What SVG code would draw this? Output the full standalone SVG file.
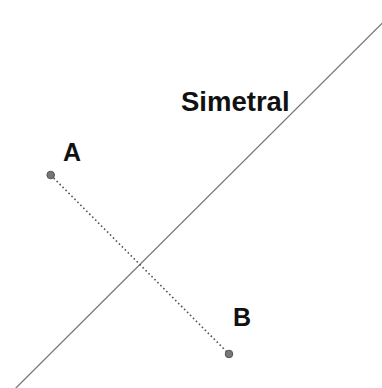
<svg xmlns="http://www.w3.org/2000/svg" width="382" height="388" viewBox="0 0 382 388">
<style>
.lbl{font-family:"Liberation Sans",Arial,sans-serif;font-weight:bold;fill:#111}
.pt{fill:#777;stroke:#555;stroke-width:1}
</style>
<rect width="382" height="388" fill="#fff"/>
<g id="connectors">
<line id="simetral-line" x1="14.9" y1="389" x2="383" y2="22.3" stroke="#777" stroke-width="1.3"/>
<line id="segment-AB" x1="50.7" y1="175" x2="229" y2="354" stroke="#555" stroke-width="1.6" stroke-dasharray="1.6 2.6"/>
</g>
<g id="node-A">
<circle class="pt" cx="50.7" cy="175" r="3.8"/>
<text class="lbl" x="63" y="161" font-size="25">A</text>
</g>
<g id="node-B">
<circle class="pt" cx="229" cy="354" r="3.8"/>
<text class="lbl" x="233" y="326" font-size="25">B</text>
</g>
<g id="label-simetral">
<text class="lbl" x="181" y="111" font-size="27.5">Simetral</text>
</g>
</svg>
